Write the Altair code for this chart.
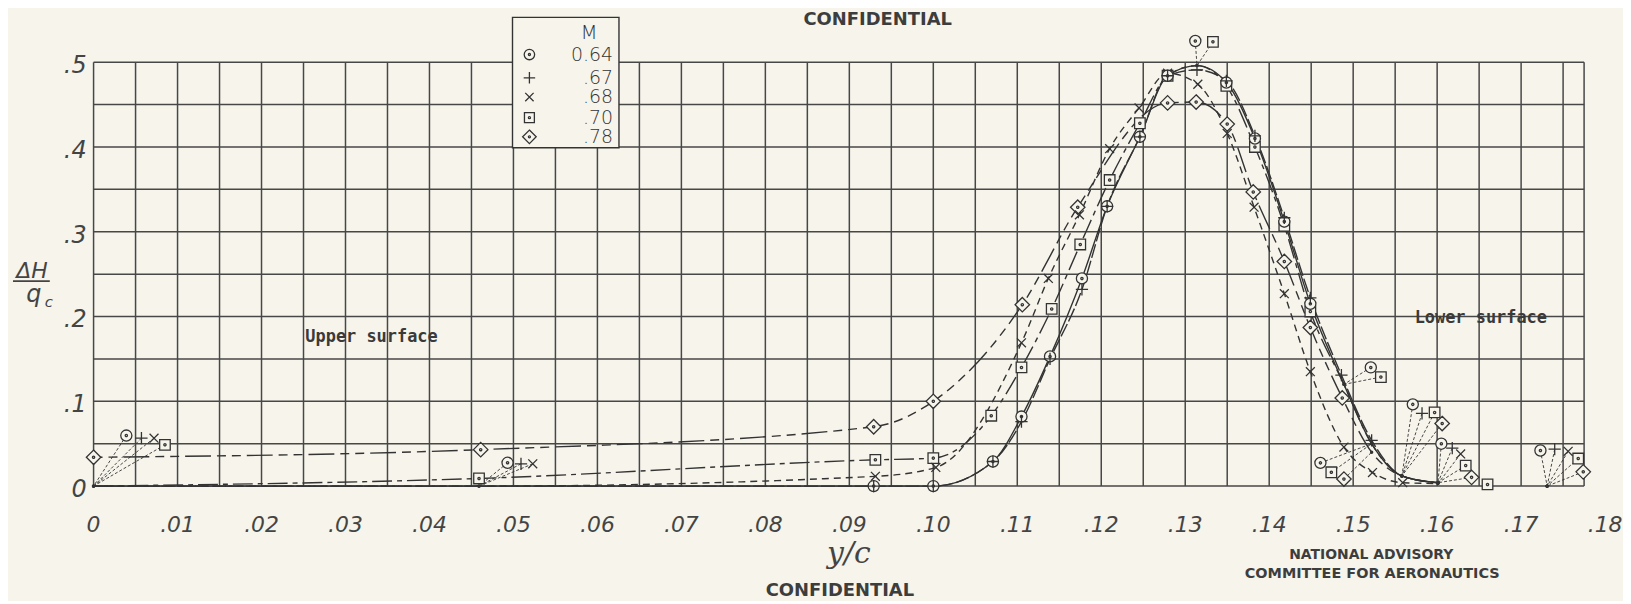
import altair as alt
import pandas as pd

# ---------------- data ----------------
SERIES = ["0.64", ".67", ".68", ".70", ".78"]

X_064 = [0.0, 0.0459, 0.0929, 0.1000, 0.1071, 0.1105, 0.1139, 0.1177, 0.1207, 0.1246, 0.1279,
         0.1314, 0.1349, 0.1383, 0.1418, 0.1449, 0.1489, 0.1522, 0.1558, 0.1601, 0.1731]
Y_064 = [0.0, 0.0, 0.0, 0.0, 0.029, 0.082, 0.153, 0.245, 0.330, 0.412, 0.484,
         0.496, 0.476, 0.410, 0.312, 0.215, 0.120, 0.050, 0.012, 0.004, 0.0]

X_067 = [0.0, 0.0459, 0.0929, 0.1000, 0.1071, 0.1105, 0.1139, 0.1177, 0.1207, 0.1246, 0.1279,
         0.1314, 0.1349, 0.1383, 0.1418, 0.1449, 0.1486, 0.1522, 0.1558, 0.1601, 0.1731]
Y_067 = [0.0, 0.0, 0.0, 0.0, 0.029, 0.076, 0.150, 0.232, 0.330, 0.412, 0.484,
         0.491, 0.478, 0.413, 0.3165, 0.222, 0.131, 0.054, 0.012, 0.004, 0.0]

X_068 = [0.0, 0.0459, 0.0931, 0.1003, 0.1105, 0.1137, 0.1174, 0.1210, 0.1245, 0.1279,
         0.1315, 0.1350, 0.1382, 0.1418, 0.1449, 0.1489, 0.1523, 0.1559, 0.1601, 0.1731]
Y_068 = [0.0, 0.0, 0.0115, 0.022, 0.169, 0.245, 0.320, 0.398, 0.446, 0.487,
         0.474, 0.416, 0.329, 0.227, 0.135, 0.046, 0.016, 0.004, 0.003, 0.0]

X_070 = [0.0, 0.0459, 0.0931, 0.1000, 0.1069, 0.1105, 0.1141, 0.1175, 0.1210, 0.1246, 0.1279,
         0.1314, 0.1349, 0.1383, 0.1418, 0.1449, 0.1489, 0.1522, 0.1558, 0.1601, 0.1660, 0.1731]
Y_070 = [0.0, 0.009, 0.031, 0.033, 0.083, 0.140, 0.209, 0.285, 0.361, 0.428, 0.484,
         0.496, 0.472, 0.400, 0.307, 0.206, 0.120, 0.050, 0.012, 0.004, 0.002, 0.0]

X_078 = [0.0, 0.0461, 0.0929, 0.1000, 0.1106, 0.1172, 0.1279, 0.1313, 0.1350, 0.1381,
         0.1418, 0.1449, 0.1487, 0.1522, 0.1558, 0.1601, 0.1731]
Y_078 = [0.034, 0.043, 0.070, 0.100, 0.214, 0.329, 0.452, 0.453, 0.427, 0.347,
         0.265, 0.187, 0.104, 0.040, 0.012, 0.004, 0.0]

# callout markers (symbols drawn beside a crowded point, joined to it by a leader line)
CALLOUT_SERIES = ["0.64", ".67", ".68", ".70",
                  "0.64", ".67", ".68",
                  "0.64", ".70",
                  "0.64", ".70",
                  "0.64", ".70", ".78",
                  "0.64", ".67", ".70", ".78",
                  "0.64", ".67", ".68", ".70", ".78",
                  "0.64", ".67", ".68", ".70", ".78"]
CALLOUT_INDEX = [0, 0, 0, 0,
                 1, 1, 1,
                 11, 11,
                 16, 16,
                 17, 17, 13,
                 18, 18, 18, 14,
                 19, 19, 18, 19, 15,
                 20, 20, 19, 21, 16]
CALLOUT_X = [0.0039, 0.0057, 0.0072, 0.0085,
             0.0493, 0.0509, 0.0523,
             0.1312, 0.1333,
             0.1521, 0.1533,
             0.1461, 0.1474, 0.1489,
             0.1571, 0.1582, 0.1597, 0.1606,
             0.1605, 0.1618, 0.1628, 0.1634, 0.1641,
             0.1723, 0.1740, 0.1756, 0.1768, 0.1774]
CALLOUT_Y = [0.0596, 0.0565, 0.0565, 0.0487,
             0.0275, 0.0263, 0.0263,
             0.525, 0.524,
             0.140, 0.1286,
             0.0274, 0.0163, 0.0083,
             0.0964, 0.0857, 0.0869, 0.0738,
             0.050, 0.0448, 0.038, 0.0242, 0.0103,
             0.042, 0.0435, 0.041, 0.0325, 0.0168]

X_TICKS = [round(i * 0.01, 2) for i in range(19)]
X_TICK_LABELS = ["0", ".01", ".02", ".03", ".04", ".05", ".06", ".07", ".08", ".09",
                 ".10", ".11", ".12", ".13", ".14", ".15", ".16", ".17", ".18"]
Y_TICKS = [0.0, 0.1, 0.2, 0.3, 0.4, 0.5]
Y_TICK_LABELS = ["0", ".1", ".2", ".3", ".4", ".5"]
GRID_X = [round(i * 0.005, 3) for i in range(36)]
GRID_Y = [round(i * 0.05, 2) for i in range(11)]
FRAME_X = 0.1775  # the graph paper ends in a part column

LEGEND_TITLE = "M"

# ---------------- styling ----------------
BG = "#f6f4eb"
INK = "#333333"
GRID_COLOR = "#474747"
HAND = "DejaVu Sans"
W, H = 1519, 426

DOT = " M -0.2 0 A 0.2 0.2 0 1 1 0.2 0 A 0.2 0.2 0 1 1 -0.2 0"
SHAPES = {
    "0.64": "M -1 0 A 1 1 0 1 1 1 0 A 1 1 0 1 1 -1 0 Z" + DOT,
    ".67": "M -1.1 0 L 1.1 0 M 0 -1.1 L 0 1.1",
    ".68": "M -0.8 -0.8 L 0.8 0.8 M -0.8 0.8 L 0.8 -0.8",
    ".70": "M -0.95 -0.95 L 0.95 -0.95 L 0.95 0.95 L -0.95 0.95 Z" + DOT,
    ".78": "M 0 -1.3 L 1.3 0 L 0 1.3 L -1.3 0 Z" + DOT,
}
DASHES = {"0.64": None, ".67": [14, 3], ".68": [7, 5], ".70": [20, 5, 5, 5], ".78": [9, 6, 9, 6, 26, 6]}
SERIES_XY = {"0.64": (X_064, Y_064), ".67": (X_067, Y_067), ".68": (X_068, Y_068),
             ".70": (X_070, Y_070), ".78": (X_078, Y_078)}

xscale = alt.Scale(domain=[0, 0.18], nice=False, zero=False)
yscale = alt.Scale(domain=[0, 0.5], nice=False, zero=False)


def X(field):
    return alt.X(field, scale=xscale, axis=None)


def Y(field):
    return alt.Y(field, scale=yscale, axis=None)


layers = []

# grid
gv = pd.DataFrame({"gx": GRID_X + [FRAME_X],
                   "gy0": [GRID_Y[0]] * (len(GRID_X) + 1), "gy1": [GRID_Y[-1]] * (len(GRID_X) + 1)})
layers.append(alt.Chart(gv).mark_rule(color=GRID_COLOR, strokeWidth=1.5).encode(
    x=X("gx:Q"), y=Y("gy0:Q"), y2="gy1:Q"))
gh = pd.DataFrame({"gy": GRID_Y, "gx0": [GRID_X[0]] * len(GRID_Y), "gx1": [FRAME_X] * len(GRID_Y)})
layers.append(alt.Chart(gh).mark_rule(color=GRID_COLOR, strokeWidth=1.5).encode(
    x=X("gx0:Q"), x2="gx1:Q", y=Y("gy:Q")))

# tick labels (hand lettered)
tick_style = dict(font=HAND, fontStyle="italic", fontWeight=300, color="#444444")
layers.append(alt.Chart(pd.DataFrame({"v": X_TICKS, "t": X_TICK_LABELS})).mark_text(
    fontSize=22, align="center", baseline="middle", **tick_style).encode(
    x=X("v:Q"), y=alt.value(H + 39), text="t:N"))
layers.append(alt.Chart(pd.DataFrame({"v": Y_TICKS, "t": Y_TICK_LABELS})).mark_text(
    fontSize=24, align="right", baseline="middle", dy=4, **tick_style).encode(
    x=alt.value(-7), y=Y("v:Q"), text="t:N"))

# legend box (covers grid)
LEG_L, LEG_R, LEG_T, LEG_B = 421, 528, -45, 86
layers.append(alt.Chart(pd.DataFrame({"a": [0]})).mark_rect(fill=BG, stroke=INK, strokeWidth=1.4).encode(
    x=alt.value(LEG_L), x2=alt.value(LEG_R), y=alt.value(LEG_T), y2=alt.value(LEG_B)))

# callout tables
hidden = set()
rows = []
for s, i, cx, cy in zip(CALLOUT_SERIES, CALLOUT_INDEX, CALLOUT_X, CALLOUT_Y):
    xs, ys = SERIES_XY[s]
    hidden.add((s, i))
    rows.append({"series": s, "cx": cx, "cy": cy, "tx": xs[i], "ty": ys[i]})
callouts = pd.DataFrame(rows)

# curves
for s in SERIES:
    xs, ys = SERIES_XY[s]
    df = pd.DataFrame({"x": xs, "y": ys})
    kw = dict(color=INK, strokeWidth=1.4, interpolate="monotone", clip=False)
    if DASHES[s]:
        kw["strokeDash"] = DASHES[s]
    layers.append(alt.Chart(df).transform_filter("datum.x <= 0.1605").mark_line(**kw).encode(
        x=X("x:Q"), y=Y("y:Q"), order="x:Q"))

# leader lines and true-point dots
layers.append(alt.Chart(callouts).mark_rule(color=INK, strokeWidth=0.9, strokeDash=[3, 2]).encode(
    x=X("cx:Q"), y=Y("cy:Q"), x2="tx:Q", y2="ty:Q"))
layers.append(alt.Chart(callouts).mark_circle(color=INK, size=12, opacity=1).encode(
    x=X("tx:Q"), y=Y("ty:Q")))

# markers (draw order so that + lands over circles)
for s in [".78", ".70", ".68", "0.64", ".67"]:
    xs, ys = SERIES_XY[s]
    pts = pd.DataFrame({"x": [x for k, x in enumerate(xs) if (s, k) not in hidden],
                        "y": [y for k, y in enumerate(ys) if (s, k) not in hidden]})
    style = dict(shape=SHAPES[s], size=125, filled=True, fill=BG, stroke=INK, strokeWidth=1.3,
                 opacity=1, fillOpacity=1, clip=False)
    layers.append(alt.Chart(pts).mark_point(**style).encode(x=X("x:Q"), y=Y("y:Q")))
    co = callouts[callouts["series"] == s]
    layers.append(alt.Chart(co).mark_point(**style).encode(x=X("cx:Q"), y=Y("cy:Q")))

# legend content
LEG_ROWS_Y = [-7.7, 15.7, 35, 55.7, 75]
for s, ry in zip(SERIES, LEG_ROWS_Y):
    layers.append(alt.Chart(pd.DataFrame({"a": [0]})).mark_point(
        shape=SHAPES[s], size=110, filled=True, fill=BG, stroke=INK, strokeWidth=1.3, opacity=1).encode(
        x=alt.value(438), y=alt.value(ry)))
    layers.append(alt.Chart(pd.DataFrame({"t": [s]})).mark_text(
        font=HAND, fontSize=19, fontWeight=300, align="right", baseline="middle", color=INK).encode(
        text="t:N", x=alt.value(522), y=alt.value(ry)))
layers.append(alt.Chart(pd.DataFrame({"t": [LEGEND_TITLE]})).mark_text(
    font=HAND, fontSize=20, fontWeight=300, align="center", baseline="middle", color=INK).encode(
    text="t:N", x=alt.value(498), y=alt.value(-29)))

# in-plot labels
labels = pd.DataFrame({"x": [0.0331, 0.1652], "y": [0.176, 0.1986], "t": ["Upper surface", "Lower surface"]})
layers.append(alt.Chart(labels).mark_text(font="DejaVu Sans Mono", fontSize=17, fontWeight="bold",
                                          color="#3a3a3a", baseline="middle").encode(
    x=X("x:Q"), y=Y("y:Q"), text="t:N"))


def ptext(t, px, py, **kw):
    return alt.Chart(pd.DataFrame({"t": [t]})).mark_text(**kw).encode(
        text="t:N", x=alt.value(px), y=alt.value(py))


stamp = dict(font="DejaVu Sans", fontWeight="bold", color="#3d3d3d", baseline="middle", align="center")
layers.append(ptext("CONFIDENTIAL", 788, -42, fontSize=18, **stamp))
layers.append(ptext("CONFIDENTIAL", 750, 531, fontSize=18, **stamp))
layers.append(ptext("NATIONAL ADVISORY", 1284, 495, fontSize=14, **stamp))
layers.append(ptext("COMMITTEE FOR AERONAUTICS", 1285, 514, fontSize=14.5, **stamp))

# axis titles (hand lettered)
layers.append(ptext("y/c", 759, 494, font="DejaVu Serif", fontSize=30, fontStyle="italic",
                    color="#444444", baseline="middle", align="center"))
layers.append(ptext("ΔH", -62, 210, font=HAND, fontSize=22, fontStyle="italic", fontWeight=300,
                    color="#444444", baseline="middle", align="center"))
layers.append(alt.Chart(pd.DataFrame({"a": [0]})).mark_rule(color="#444444", strokeWidth=1.6).encode(
    x=alt.value(-81), x2=alt.value(-44), y=alt.value(220)))
layers.append(ptext("q", -60, 234, font=HAND, fontSize=24, fontStyle="italic", fontWeight=300,
                    color="#444444", baseline="middle", align="center"))
layers.append(ptext("c", -45, 241, font=HAND, fontSize=15, fontStyle="italic", fontWeight=300,
                    color="#444444", baseline="middle", align="center"))

chart = alt.layer(*layers).properties(
    width=W, height=H,
    padding={"left": 86, "top": 53, "right": 18, "bottom": 114},
    autosize=alt.AutoSizeParams(type="none"),
    background=BG,
).configure_view(stroke=None)

chart.save("out.html", embed_options={"renderer": "svg", "actions": False})
